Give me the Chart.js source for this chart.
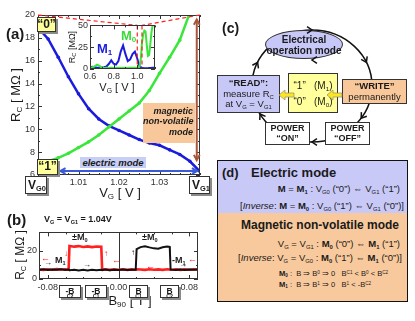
<!DOCTYPE html>
<html>
<head>
<meta charset="utf-8">
<script src="https://cdn.jsdelivr.net/npm/chart.js@4.4.1/dist/chart.umd.min.js"></script>
<style>
body { margin: 0; background: #fff; }
#fig { position: relative; width: 415px; height: 321px; overflow: hidden; font-family: "Liberation Sans", Arial, sans-serif; color: #1a1a1a; }
#fig canvas { position: absolute; }
.t { position: absolute; white-space: nowrap; line-height: 1; }
.ctr { transform: translateX(-50%); }
.rot { position: absolute; transform: translate(-50%, -50%) rotate(-90deg); white-space: nowrap; line-height: 1; }
sub { font-size: 0.62em; vertical-align: -0.3em; line-height: 0; }
sup { font-size: 0.62em; vertical-align: 0.5em; line-height: 0; }
.bx { position: absolute; box-sizing: border-box; border: 1px solid #333; display: flex; flex-direction: column; align-items: center; justify-content: center; white-space: nowrap; line-height: 1.1; z-index: 2; }
.sh { box-shadow: 2px 2px 0 #8a8a8a; }
.b { font-weight: bold; }
svg { position: absolute; left: 0; top: 0; }
</style>
</head>
<body>
<div id="fig">
  <canvas id="chartA" width="210" height="200" style="left:0;top:0"></canvas>
  <canvas id="chartIn" width="100" height="72" style="left:60px;top:18px"></canvas>
  <canvas id="chartB" width="210" height="75" style="left:0;top:225px"></canvas>

  <!-- panel (a) labels -->
  <div class="t b" style="left:6px;top:26px;font-size:15px">(a)</div>
  <div class="rot" style="left:15px;top:95px;font-size:13px">R<sub>C</sub> [ MΩ ]</div>
  <div class="t ctr" style="left:120px;top:186px;font-size:13px">V<sub>G</sub> [ V ]</div>
  <div class="bx sh b" style="left:37px;top:17px;width:19px;height:15px;background:#ffff9c;font-size:12px">“0”</div>
  <div class="bx sh b" style="left:37px;top:159px;width:21px;height:16px;background:#ffff9c;font-size:12px">“1”</div>
  <div class="bx sh b" style="left:25px;top:176px;width:22px;height:18px;background:#fff;font-size:12px;display:block;padding:2px 0 0 2px">V<sub>G0</sub></div>
  <div class="bx sh b" style="left:189px;top:176px;width:21px;height:18px;background:#fff;font-size:12px;display:block;padding:2px 0 0 2px">V<sub>G1</sub></div>
  <div class="t b" style="left:80px;top:157px;width:66px;height:11px;background:#c8cff7;font-size:9.5px;font-style:italic;text-align:center;line-height:11px">electric mode</div>
  <div class="t b" style="left:143px;top:103px;width:52px;height:40px;background:#f8c89a;font-size:9px;font-style:italic;text-align:right;line-height:1.15;padding-top:3px;box-sizing:border-box;padding-right:2px">magnetic<br>non-volatile<br>mode</div>

  <!-- inset labels -->
  <div class="t b" style="left:97px;top:42px;font-size:13px;color:#1b1bdc">M<sub>1</sub></div>
  <div class="t b" style="left:121px;top:29px;font-size:13px;color:#39d939">M<sub>0</sub></div>
  <div class="rot" style="left:72px;top:47px;font-size:9px">R<sub>C</sub> [MΩ]</div>
  <div class="t ctr" style="left:117px;top:82px;font-size:11px">V<sub>G</sub> [ V ]</div>

  <!-- panel (b) labels -->
  <div class="t b" style="left:7px;top:212px;font-size:15px">(b)</div>
  <div class="t b" style="left:44px;top:215px;font-size:9px">V<sub>G</sub> = V<sub>G1</sub> = 1.04V</div>
  <div class="rot" style="left:20px;top:255px;font-size:12px">R<sub>C</sub> [ MΩ ]</div>
  <div class="t ctr" style="left:130px;top:294px;font-size:13px">B<sub>90</sub> [ T ]</div>
  <div class="bx sh b" style="left:59px;top:285px;width:22px;height:13px;background:#fff;font-size:8.5px">-B<sup>C2</sup></div>
  <div class="bx sh b" style="left:85px;top:285px;width:22px;height:13px;background:#fff;font-size:8.5px">-B<sup>C1</sup></div>
  <div class="bx sh b" style="left:129px;top:285px;width:19px;height:13px;background:#fff;font-size:8.5px">B<sup>C1</sup></div>
  <div class="bx sh b" style="left:160px;top:285px;width:19px;height:13px;background:#fff;font-size:8.5px">B<sup>C2</sup></div>
  <div class="t b" style="left:72px;top:233px;font-size:9px">±M<sub>0</sub></div>
  <div class="t b" style="left:142px;top:233px;font-size:9px">±M<sub>0</sub></div>
  <div class="t b" style="left:55px;top:256px;font-size:9px">M<sub>1</sub></div>
  <div class="t b" style="left:172px;top:256px;font-size:9px">-M<sub>1</sub></div>
  <div class="t" style="left:41px;top:254px;font-size:9px;color:#f22">←</div>
  <div class="t" style="left:44px;top:259px;font-size:8px;color:#111">→</div>
  <div class="t" style="left:64px;top:250px;font-size:8px;color:#f22">↓</div>
  <div class="t" style="left:104px;top:250px;font-size:8px;color:#f22">↑</div>
  <div class="t" style="left:112px;top:256px;font-size:9px;color:#f22">←</div>
  <div class="t" style="left:83px;top:261px;font-size:8px;color:#111">→</div>
  <div class="t" style="left:146px;top:262px;font-size:9px;color:#f22">←</div>
  <div class="t" style="left:131px;top:249px;font-size:8px;color:#111">↑</div>
  <div class="t" style="left:168px;top:246px;font-size:8px;color:#111">↓</div>
  <div class="t" style="left:179px;top:261px;font-size:8px;color:#111">→</div>
  <div class="t" style="left:188px;top:255px;font-size:9px;color:#f22">←</div>

  <!-- panel (c) -->
  <svg id="loopBack" width="415" height="321" style="z-index:1"></svg>
  <div class="t b" style="left:222px;top:21px;font-size:14px">(c)</div>
  <div class="bx b" style="left:265px;top:30px;width:78px;height:29px;border-radius:50%;background:#c8c8f8;font-size:10px">Electrical<span>operation mode</span></div>
  <div class="bx" style="left:217px;top:75px;width:63px;height:38px;background:#c8c8f6;font-size:9.5px"><span class="b">“READ”:</span><span>measure R<sub>C</sub></span><span>at V<sub>G</sub> = V<sub>G1</sub></span></div>
  <div class="bx" style="left:288px;top:73px;width:50px;height:40px;background:#ffff9c;font-size:10px;justify-content:space-around;padding:3px 0">
    <span>“1”&nbsp;&nbsp;&nbsp;(M<sub>1</sub>)</span><span>“0”&nbsp;&nbsp;&nbsp;(M<sub>0</sub>)</span></div>
  <div class="bx" style="left:342px;top:79px;width:65px;height:25px;background:#f9c89a;font-size:9.5px"><span class="b">“WRITE”</span><span>permanently</span></div>
  <div class="bx b" style="left:325px;top:122px;width:45px;height:23px;background:#fff;font-size:9px">POWER<span>“OFF”</span></div>
  <div class="bx b" style="left:265px;top:122px;width:45px;height:23px;background:#fff;font-size:9px">POWER<span>“ON”</span></div>
  <svg id="loopFront" width="415" height="321" style="z-index:3"></svg>

  <!-- panel (d) -->
  <div style="position:absolute;left:217px;top:160px;width:191px;height:142px;border:1px solid #111;box-sizing:border-box;background:#f8c99c;font-size:9.5px">
    <div style="position:absolute;left:0;top:0;right:0;height:52px;background:#c9c9f8"></div>
    <div class="t b" style="left:4px;top:5px;font-size:13px">(d)</div>
    <div class="t b" style="left:33px;top:5px;font-size:13px">Electric mode</div>
    <div class="t" style="right:7px;top:23px"><b>M</b> = <b>M<sub>1</sub></b> : V<sub>G0</sub> (“0”) ⇔ V<sub>G1</sub> (“1”)</div>
    <div class="t" style="right:3px;top:40px">[<i>Inverse</i>: <b>M</b> = <b>M<sub>0</sub></b> : V<sub>G0</sub> (“1”) ⇔ V<sub>G1</sub> (“0”)]</div>
    <div class="t b" style="right:8px;top:58px;font-size:12px">Magnetic non-volatile mode</div>
    <div class="t" style="right:7px;top:78px">V<sub>G</sub> = V<sub>G1</sub> : <b>M<sub>0</sub></b> (“0”) ⇔ <b>M<sub>1</sub></b> (“1”)</div>
    <div class="t" style="right:5px;top:92px">[<i>Inverse</i>: V<sub>G</sub> = V<sub>G0</sub> : <b>M<sub>0</sub></b> (“1”) ⇔ <b>M<sub>1</sub></b> (“0”)]</div>
    <div class="t" style="left:61px;top:109px;font-size:7.5px"><b>M<sub>0</sub></b> :&nbsp; B ⇒ B<sup>0</sup> ⇒ 0 &nbsp;&nbsp;B<sup>C1</sup> &lt; B<sup>0</sup> &lt; B<sup>C2</sup></div>
    <div class="t" style="left:61px;top:120px;font-size:7.5px"><b>M<sub>1</sub></b> :&nbsp; B ⇒ B<sup>1</sup> ⇒ 0 &nbsp;&nbsp;B<sup>1</sup> &lt; -B<sup>C2</sup></div>
  </div>
</div>

<script>
"use strict";
// (a) gate voltage sweep, main plot
const vg = [1.0000, 1.0025, 1.0050, 1.0075, 1.0100, 1.0125, 1.0150, 1.0175, 1.0200,
  1.0225, 1.0250, 1.0275, 1.0300, 1.0325, 1.0350, 1.0375, 1.0400];
const rcM1 = [18.9, 17.9, 16.3, 14.6, 13.1, 11.8, 10.9, 10.3, 9.9,
  9.5, 9.1, 8.8, 8.6, 8.2, 7.8, 7.2, 6.3];
const rcM0 = [6.9, 7.2, 7.5, 7.9, 8.4, 8.9, 9.5, 10.2, 10.9,
  11.6, 12.3, 13.4, 14.9, 16.3, 17.8, 20.2, 22.5];
const yTicksA = [6, 8, 10, 12, 14, 16, 18, 20];
const xTicksA = [1.01, 1.02, 1.03];

// (a) inset, wide gate sweep
const vgIn = [0.60, 0.62, 0.64, 0.66, 0.68, 0.70, 0.72, 0.74, 0.76, 0.78, 0.80, 0.82, 0.84,
  0.86, 0.88, 0.90, 0.92, 0.94, 0.96, 0.98, 1.00, 1.01, 1.02, 1.03, 1.04, 1.05, 1.06,
  1.07, 1.08, 1.09, 1.10, 1.11, 1.12, 1.13, 1.14, 1.15];
const inM1 = [2, 2.5, 2, 1.5, 1.5, 1.8, 2, 3, 6, 10, 6, 5, 9,
  20, 27, 17, 9, 11, 17, 20, 12, 7, 3, 2, 1.5, 1.2, 1,
  1, 1, 1, 1.2, 1.2, 1.3, 1.5, 1.5, 1.8];
const inM0 = [1.5, 2, 3, 5, 3.5, 1.5, 1.2, 1.4, 1.2, 1.3, 1.2, 1.4, 1.3,
  1.2, 1.3, 1.4, 1.2, 1.3, 1.4, 1.5, 1.5, 1.8, 3, 12, 30, 40, 44,
  43, 28, 15, 16, 28, 42, 50, 56, 60];
const xTicksIn = [0.6, 0.8, 1.0];
const yTicksIn = [0, 25, 50];

// (b) field sweep at VG = VG1
const bField = [-0.090, -0.085, -0.080, -0.075, -0.070, -0.065, -0.060, -0.0565, -0.0555,
  -0.050, -0.045, -0.040, -0.035, -0.030, -0.025, -0.0195, -0.0185, -0.015, -0.010, -0.005,
  0.000, 0.005, 0.010, 0.015, 0.0195, 0.0205, 0.025, 0.030, 0.035, 0.040, 0.045, 0.050,
  0.055, 0.058, 0.059, 0.065, 0.070, 0.075, 0.080, 0.085, 0.090];
const rcRed = [6.8, 6.5, 6.9, 6.6, 7.0, 6.7, 6.9, 6.6, 23.4,
  22.9, 23.3, 22.7, 23.1, 22.6, 23.0, 22.8, 6.7, 6.9, 6.5, 6.8,
  6.6, 6.9, 6.5, 6.8, 6.6, 6.9, 6.7, 6.5, 6.9, 6.6, 6.8, 6.5,
  6.9, 6.7, 6.6, 6.9, 6.5, 6.8, 6.6, 6.9, 6.7];
const rcBlack = [6.4, 6.9, 6.3, 6.8, 6.5, 6.9, 6.4, 6.7, 6.2,
  6.6, 6.0, 6.5, 6.1, 6.6, 6.2, 6.5, 6.3, 6.7, 6.2, 6.6,
  6.3, 6.7, 6.4, 6.6, 6.5, 21.2, 22.6, 23.2, 22.4, 21.7, 21.5, 22.5,
  23.0, 22.7, 6.6, 6.3, 6.7, 6.4, 6.8, 6.5, 6.7];
const xTicksB = [-0.08, 0, 0.08];
const xStepB = 0.02;
const yTicksB = [0, 20];

// colours
const BLUE = "#1b1bdc";
const GREEN = "#39e639";
const RED = "#ff2020";

Chart.defaults.font.family = "'Liberation Sans', Arial, sans-serif";
Chart.defaults.color = "#333";
Chart.defaults.animation = false;

const isIn = function (v, list) {
  return list.some(function (t) { return Math.abs(t - v) < 1e-7; });
};

const toPts = function (xs, ys) {
  return xs.map(function (x, i) { return { x: x, y: ys[i] }; });
};

const noGrid = { display: false, drawTicks: false };

// frame with inward ticks on all four sides
const framePlugin = {
  id: "frame",
  afterDraw(chart) {
    const ctx = chart.ctx;
    const a = chart.chartArea;
    ctx.save();
    ctx.strokeStyle = "#333";
    ctx.lineWidth = 1;
    chart.scales.x.ticks.forEach(function (t) {
      const px = Math.round(chart.scales.x.getPixelForValue(t.value)) + 0.5;
      const len = t.label ? 4 : 2;
      ctx.beginPath();
      ctx.moveTo(px, a.bottom); ctx.lineTo(px, a.bottom - len);
      ctx.moveTo(px, a.top); ctx.lineTo(px, a.top + len);
      ctx.stroke();
    });
    chart.scales.y.ticks.forEach(function (t) {
      const py = Math.round(chart.scales.y.getPixelForValue(t.value)) + 0.5;
      const len = t.label ? 4 : 2;
      ctx.beginPath();
      ctx.moveTo(a.left, py); ctx.lineTo(a.left + len, py);
      ctx.moveTo(a.right, py); ctx.lineTo(a.right - len, py);
      ctx.stroke();
    });
    ctx.strokeRect(Math.round(a.left) + 0.5, Math.round(a.top) + 0.5,
      Math.round(a.width) - 1, Math.round(a.height) - 1);
    ctx.restore();
  },
};

const arrowHead = function (ctx, x, y, ang, size) {
  ctx.beginPath();
  ctx.moveTo(x - size * Math.cos(ang - 0.5), y - size * Math.sin(ang - 0.5));
  ctx.lineTo(x, y);
  ctx.lineTo(x - size * Math.cos(ang + 0.5), y - size * Math.sin(ang + 0.5));
  ctx.stroke();
};

// ---------- inset ----------
const insetCanvas = document.getElementById("chartIn");
const insetChart = new Chart(insetCanvas, {
  type: "scatter",
  data: {
    datasets: [
      { data: toPts(vgIn, inM0), borderColor: GREEN, borderWidth: 2, showLine: true, pointRadius: 0 },
      { data: toPts(vgIn, inM1), borderColor: BLUE, borderWidth: 2, showLine: true, pointRadius: 0 },
    ],
  },
  options: {
    responsive: false,
    devicePixelRatio: 1,
    layout: { padding: { top: 7, right: 5, left: 0, bottom: 0 } },
    plugins: { legend: { display: false }, tooltip: { enabled: false } },
    scales: {
      x: {
        type: "linear", min: 0.6, max: 1.15,
        grid: noGrid, border: { display: false },
        ticks: {
          stepSize: 0.1, autoSkip: false, maxRotation: 0, padding: 2, font: { size: 9 },
          callback: function (v) { return isIn(v, xTicksIn) ? v.toFixed(1) : ""; },
        },
        afterFit: function (s) { s.height = 21; },
      },
      y: {
        min: 0, max: 50,
        grid: noGrid, border: { display: false },
        ticks: {
          stepSize: 12.5, autoSkip: false, padding: 2, font: { size: 9 },
          callback: function (v) { return isIn(v, yTicksIn) ? String(v) : ""; },
        },
        afterFit: function (s) { s.width = 30; },
      },
    },
  },
  plugins: [
    {
      id: "insetBg",
      beforeDatasetsDraw(chart) {
        const a = chart.chartArea;
        chart.ctx.save();
        chart.ctx.fillStyle = "#fff";
        chart.ctx.fillRect(a.left, a.top, a.width, a.height);
        chart.ctx.restore();
      },
      afterDatasetsDraw(chart) {
        // zoom window of the main plot
        const ctx = chart.ctx;
        const a = chart.chartArea;
        ctx.save();
        ctx.strokeStyle = RED;
        ctx.lineWidth = 1.2;
        ctx.setLineDash([4, 3]);
        [vg[0], vg[vg.length - 1]].forEach(function (v) {
          const px = chart.scales.x.getPixelForValue(v);
          ctx.beginPath(); ctx.moveTo(px, a.top); ctx.lineTo(px, a.bottom); ctx.stroke();
        });
        ctx.restore();
      },
    },
    framePlugin,
  ],
});

// ---------- main (a) ----------
const chartA = new Chart(document.getElementById("chartA"), {
  type: "scatter",
  data: {
    datasets: [
      { data: toPts(vg, rcM0), borderColor: GREEN, backgroundColor: GREEN, borderWidth: 2.5, showLine: true, pointRadius: 1.8, pointBorderWidth: 0 },
      { data: toPts(vg, rcM1), borderColor: BLUE, backgroundColor: BLUE, borderWidth: 2.5, showLine: true, pointRadius: 1.8, pointBorderWidth: 0 },
    ],
  },
  options: {
    responsive: false,
    devicePixelRatio: 1,
    layout: { padding: { top: 15, right: 10, left: 0, bottom: 0 } },
    plugins: { legend: { display: false }, tooltip: { enabled: false } },
    scales: {
      x: {
        type: "linear", min: 1.0, max: 1.04,
        grid: noGrid, border: { display: false },
        ticks: {
          stepSize: 0.0025, autoSkip: false, maxRotation: 0, padding: 2, font: { size: 9 },
          callback: function (v) { return isIn(v, xTicksA) ? v.toFixed(2) : ""; },
        },
        afterFit: function (s) { s.height = 25; },
      },
      y: {
        min: 6, max: 20,
        grid: noGrid, border: { display: false },
        ticks: {
          stepSize: 1, autoSkip: false, padding: 3, font: { size: 9 },
          callback: function (v) { return isIn(v, yTicksA) ? String(v) : ""; },
        },
        afterFit: function (s) { s.width = 38; },
      },
    },
  },
  plugins: [
    framePlugin,
    {
      id: "modeArrows",
      afterDraw(chart) {
        const ctx = chart.ctx;
        const x = chart.scales.x;
        const y = chart.scales.y;
        ctx.save();
        // zoom funnel towards the inset
        const ox = insetCanvas.offsetLeft;
        const oy = insetCanvas.offsetTop;
        const ia = insetChart.chartArea;
        ctx.strokeStyle = RED;
        ctx.lineWidth = 1.2;
        ctx.setLineDash([4, 3]);
        [vg[0], vg[vg.length - 1]].forEach(function (v) {
          ctx.beginPath();
          ctx.moveTo(x.getPixelForValue(v), y.getPixelForValue(20));
          ctx.lineTo(insetChart.scales.x.getPixelForValue(v) + ox, ia.top + oy);
          ctx.stroke();
        });
        ctx.setLineDash([]);
        // electric mode double arrow
        const ex0 = x.getPixelForValue(1.0055);
        const ex1 = x.getPixelForValue(1.0393);
        const ey = y.getPixelForValue(6.35);
        ctx.strokeStyle = "#3a5ad8";
        ctx.lineWidth = 2;
        ctx.beginPath(); ctx.moveTo(ex0, ey); ctx.lineTo(ex1, ey); ctx.stroke();
        arrowHead(ctx, ex0, ey, Math.PI, 6);
        arrowHead(ctx, ex1, ey, 0, 6);
        // magnetic non-volatile double arrow
        const mx = x.getPixelForValue(1.0392);
        const my0 = y.getPixelForValue(19.6);
        const my1 = y.getPixelForValue(7.3);
        ctx.strokeStyle = "#a9553a";
        ctx.lineWidth = 2;
        ctx.beginPath(); ctx.moveTo(mx, my0); ctx.lineTo(mx, my1); ctx.stroke();
        arrowHead(ctx, mx, my0, -Math.PI / 2, 6);
        arrowHead(ctx, mx, my1, Math.PI / 2, 6);
        ctx.restore();
      },
    },
  ],
});

// ---------- (b) ----------
new Chart(document.getElementById("chartB"), {
  type: "scatter",
  data: {
    datasets: [
      { data: toPts(bField, rcBlack), borderColor: "#111", borderWidth: 2, showLine: true, pointRadius: 0 },
      { data: toPts(bField, rcRed), borderColor: RED, borderWidth: 2.6, showLine: true, pointRadius: 0 },
    ],
  },
  options: {
    responsive: false,
    devicePixelRatio: 1,
    layout: { padding: { top: 7, right: 12, left: 0, bottom: 0 } },
    plugins: { legend: { display: false }, tooltip: { enabled: false } },
    scales: {
      x: {
        type: "linear", min: -0.09, max: 0.09,
        grid: noGrid, border: { display: false },
        afterBuildTicks: function (s) {
          const list = [];
          for (let k = -4; k <= 4; k++) list.push({ value: k * xStepB });
          s.ticks = list;
        },
        ticks: {
          autoSkip: false, maxRotation: 0, padding: 3, font: { size: 9 },
          callback: function (v) { return isIn(v, xTicksB) ? v.toFixed(2) : ""; },
        },
        afterFit: function (s) { s.height = 21; },
      },
      y: {
        min: 0, max: 33,
        grid: noGrid, border: { display: false },
        ticks: {
          stepSize: 10, autoSkip: false, padding: 2, font: { size: 9 },
          callback: function (v) { return isIn(v, yTicksB) ? String(v) : ""; },
        },
        afterFit: function (s) { s.width = 39; },
      },
    },
  },
  plugins: [
    {
      id: "zeroLine",
      beforeDatasetsDraw(chart) {
        const ctx = chart.ctx;
        const a = chart.chartArea;
        const px = Math.round(chart.scales.x.getPixelForValue(0)) + 0.5;
        ctx.save();
        ctx.strokeStyle = "#333";
        ctx.lineWidth = 1;
        ctx.beginPath(); ctx.moveTo(px, a.top); ctx.lineTo(px, a.bottom); ctx.stroke();
        ctx.restore();
      },
    },
    framePlugin,
  ],
});

// ---------- (c) operation loop ----------
const loop = { cx: 312, cy: 86, rx: 60, ry: 56 };
const chevronAngles = [-90, -25, 35, 90, 150, 205];

const chevron = function (x, y, a) {
  const s = 6, w = 0.6;
  const p1 = [x - s * Math.cos(a - w), y - s * Math.sin(a - w)];
  const p2 = [x - s * Math.cos(a + w), y - s * Math.sin(a + w)];
  return '<polyline points="' + p1.join(",") + " " + x + "," + y + " " + p2.join(",") +
    '" fill="none" stroke="#111" stroke-width="1.5"/>';
};

document.getElementById("loopBack").innerHTML =
  '<ellipse cx="' + loop.cx + '" cy="' + loop.cy + '" rx="' + loop.rx + '" ry="' + loop.ry +
  '" fill="none" stroke="#111" stroke-width="1.5"/>';

let front = "";
chevronAngles.forEach(function (deg) {
  const th = deg * Math.PI / 180;
  const x = loop.cx + loop.rx * Math.cos(th);
  const y = loop.cy + loop.ry * Math.sin(th);
  const dir = Math.atan2(loop.ry * Math.cos(th), -loop.rx * Math.sin(th));
  front += chevron(x, y, dir);
});
front += chevron(312, 60, Math.PI);

// yellow arrows: WRITE -> state -> READ
const yellowArrow = function (x, y) {
  const pts = [[x, y], [x + 6, y - 5], [x + 6, y - 2], [x + 15, y - 2], [x + 15, y + 2], [x + 6, y + 2], [x + 6, y + 5]];
  return '<polygon points="' + pts.map(function (p) { return p.join(","); }).join(" ") +
    '" fill="#ffe61a" stroke="#888" stroke-width="0.7"/>';
};
front += yellowArrow(327, 95) + yellowArrow(279, 95);
document.getElementById("loopFront").innerHTML = front;
</script>
</body>
</html>
